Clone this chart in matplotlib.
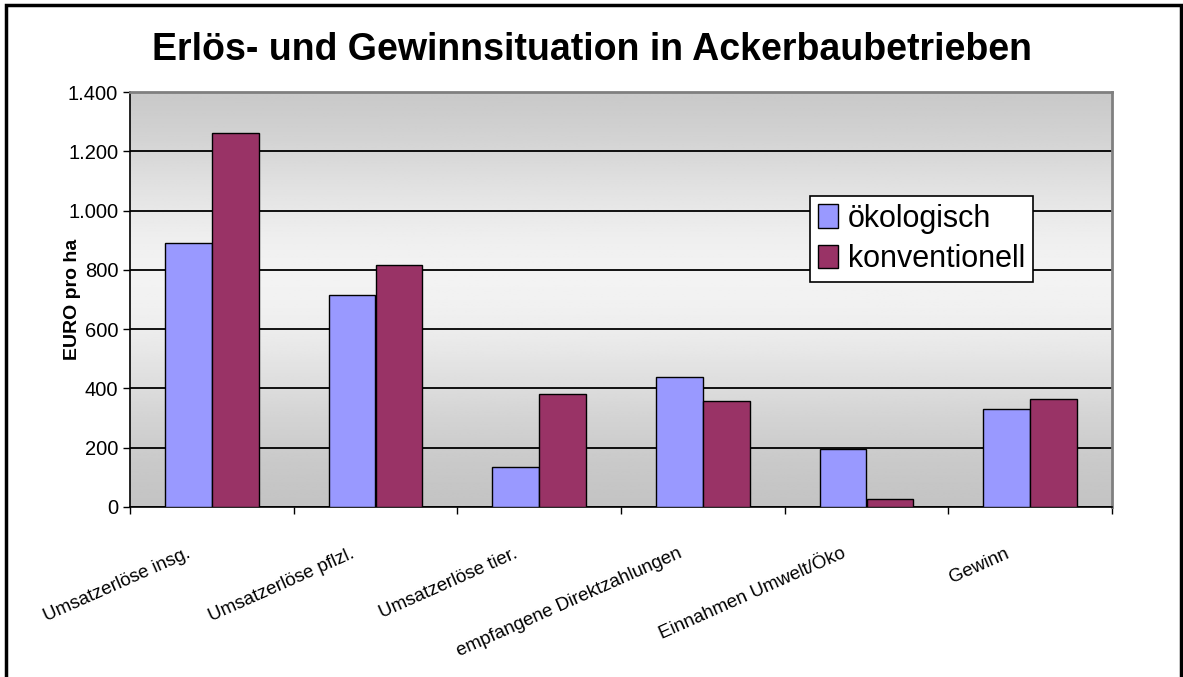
import numpy as np
import matplotlib
matplotlib.use("Agg")
import matplotlib.pyplot as plt
import matplotlib.transforms as mtransforms
from matplotlib.patches import Rectangle

plt.rcParams['font.family'] = ['Liberation Sans', 'DejaVu Sans']

# Daten
kategorien = ["Umsatzerlöse insg.", "Umsatzerlöse pflzl.", "Umsatzerlöse tier.",
              "empfangene Direktzahlungen", "Einnahmen Umwelt/Öko", "Gewinn"]
oekologisch = [890, 715, 135, 440, 196, 331]
konventionell = [1263, 818, 380, 358, 27, 365]
yticks = [0, 200, 400, 600, 800, 1000, 1200, 1400]
ytick_labels = ["0", "200", "400", "600", "800", "1.000", "1.200", "1.400"]

fig = plt.figure(figsize=(11.83, 6.77), dpi=100)
ax = fig.add_axes([130 / 1183, 1 - 507 / 677, (1112 - 130) / 1183, (507 - 92) / 677])

# Hintergrund-Verlauf (grau -> hell -> grau)
t = np.linspace(0, 1, 256)
shade = 0.75 + 0.20 * np.exp(-((t - 0.55) / 0.35) ** 2)
grad = np.repeat(shade[:, None], 2, axis=1)
ax.imshow(grad, cmap='gray', vmin=0, vmax=1, aspect='auto',
          extent=[0, 1, 0, 1], transform=ax.transAxes, zorder=0, origin='lower')

x = np.arange(len(kategorien))
w = 0.287
ax.bar(x - w / 2, oekologisch, w, color='#9999ff', edgecolor='black', linewidth=1,
       label='ökologisch', zorder=3)
ax.bar(x + w / 2, konventionell, w, color='#993366', edgecolor='black', linewidth=1,
       label='konventionell', zorder=3)

ax.set_xlim(-0.5, len(kategorien) - 0.5)
ax.set_ylim(0, 1400)
ax.set_yticks(yticks)
ax.set_yticklabels(ytick_labels, fontsize=14.5)
ax.yaxis.grid(True, color='black', linewidth=1.3, zorder=1)
ax.set_axisbelow(True)

# Kategorie-Ticks an den Grenzen, Beschriftungen in der Mitte
ax.set_xticks(np.arange(len(kategorien) + 1) - 0.5)
ax.set_xticklabels([])
ax.set_xticks(x, minor=True)
ax.set_xticklabels(kategorien, minor=True, rotation=24, ha='right', va='center',
                   rotation_mode='anchor', fontsize=13.5)
ax.tick_params(axis='x', which='minor', length=0, pad=0)
off = mtransforms.ScaledTranslation(-22 / 100, -46 / 100, fig.dpi_scale_trans)
for lbl in ax.get_xticklabels(minor=True):
    lbl.set_transform(lbl.get_transform() + off)
ax.tick_params(axis='both', which='major', direction='out', length=5, width=1, color='black')

for s in ['top', 'right']:
    ax.spines[s].set_color('#808080')
    ax.spines[s].set_linewidth(2)
for s in ['left', 'bottom']:
    ax.spines[s].set_color('black')
    ax.spines[s].set_linewidth(1.2)

ax.set_ylabel("EURO pro ha", fontsize=14, fontweight='bold')
ax.yaxis.set_label_coords(-0.05, 0.5)

fig.text(0.5, 1 - 50 / 677, "Erlös- und Gewinnsituation in Ackerbaubetrieben",
         ha='center', va='center', fontsize=27, fontweight='bold')

leg = ax.legend(loc='upper left', bbox_to_anchor=((810 - 130) / 982, 1 - (196 - 92) / 415),
                fontsize=22, frameon=True, fancybox=False, edgecolor='black',
                handlelength=0.65, handleheight=0.8, handletextpad=0.35,
                borderpad=0.25, labelspacing=0.35, borderaxespad=0)
leg.get_frame().set_linewidth(1.2)
leg.get_frame().set_facecolor('white')
leg.get_frame().set_alpha(1)

# Rahmen um die ganze Grafik
fig.patches.append(Rectangle((6 / 1183, -0.01), (1181 - 6) / 1183, 1.01 - 5 / 677,
                             transform=fig.transFigure, fill=False,
                             edgecolor='black', linewidth=2.5))

fig.savefig("out.png", dpi=100)
